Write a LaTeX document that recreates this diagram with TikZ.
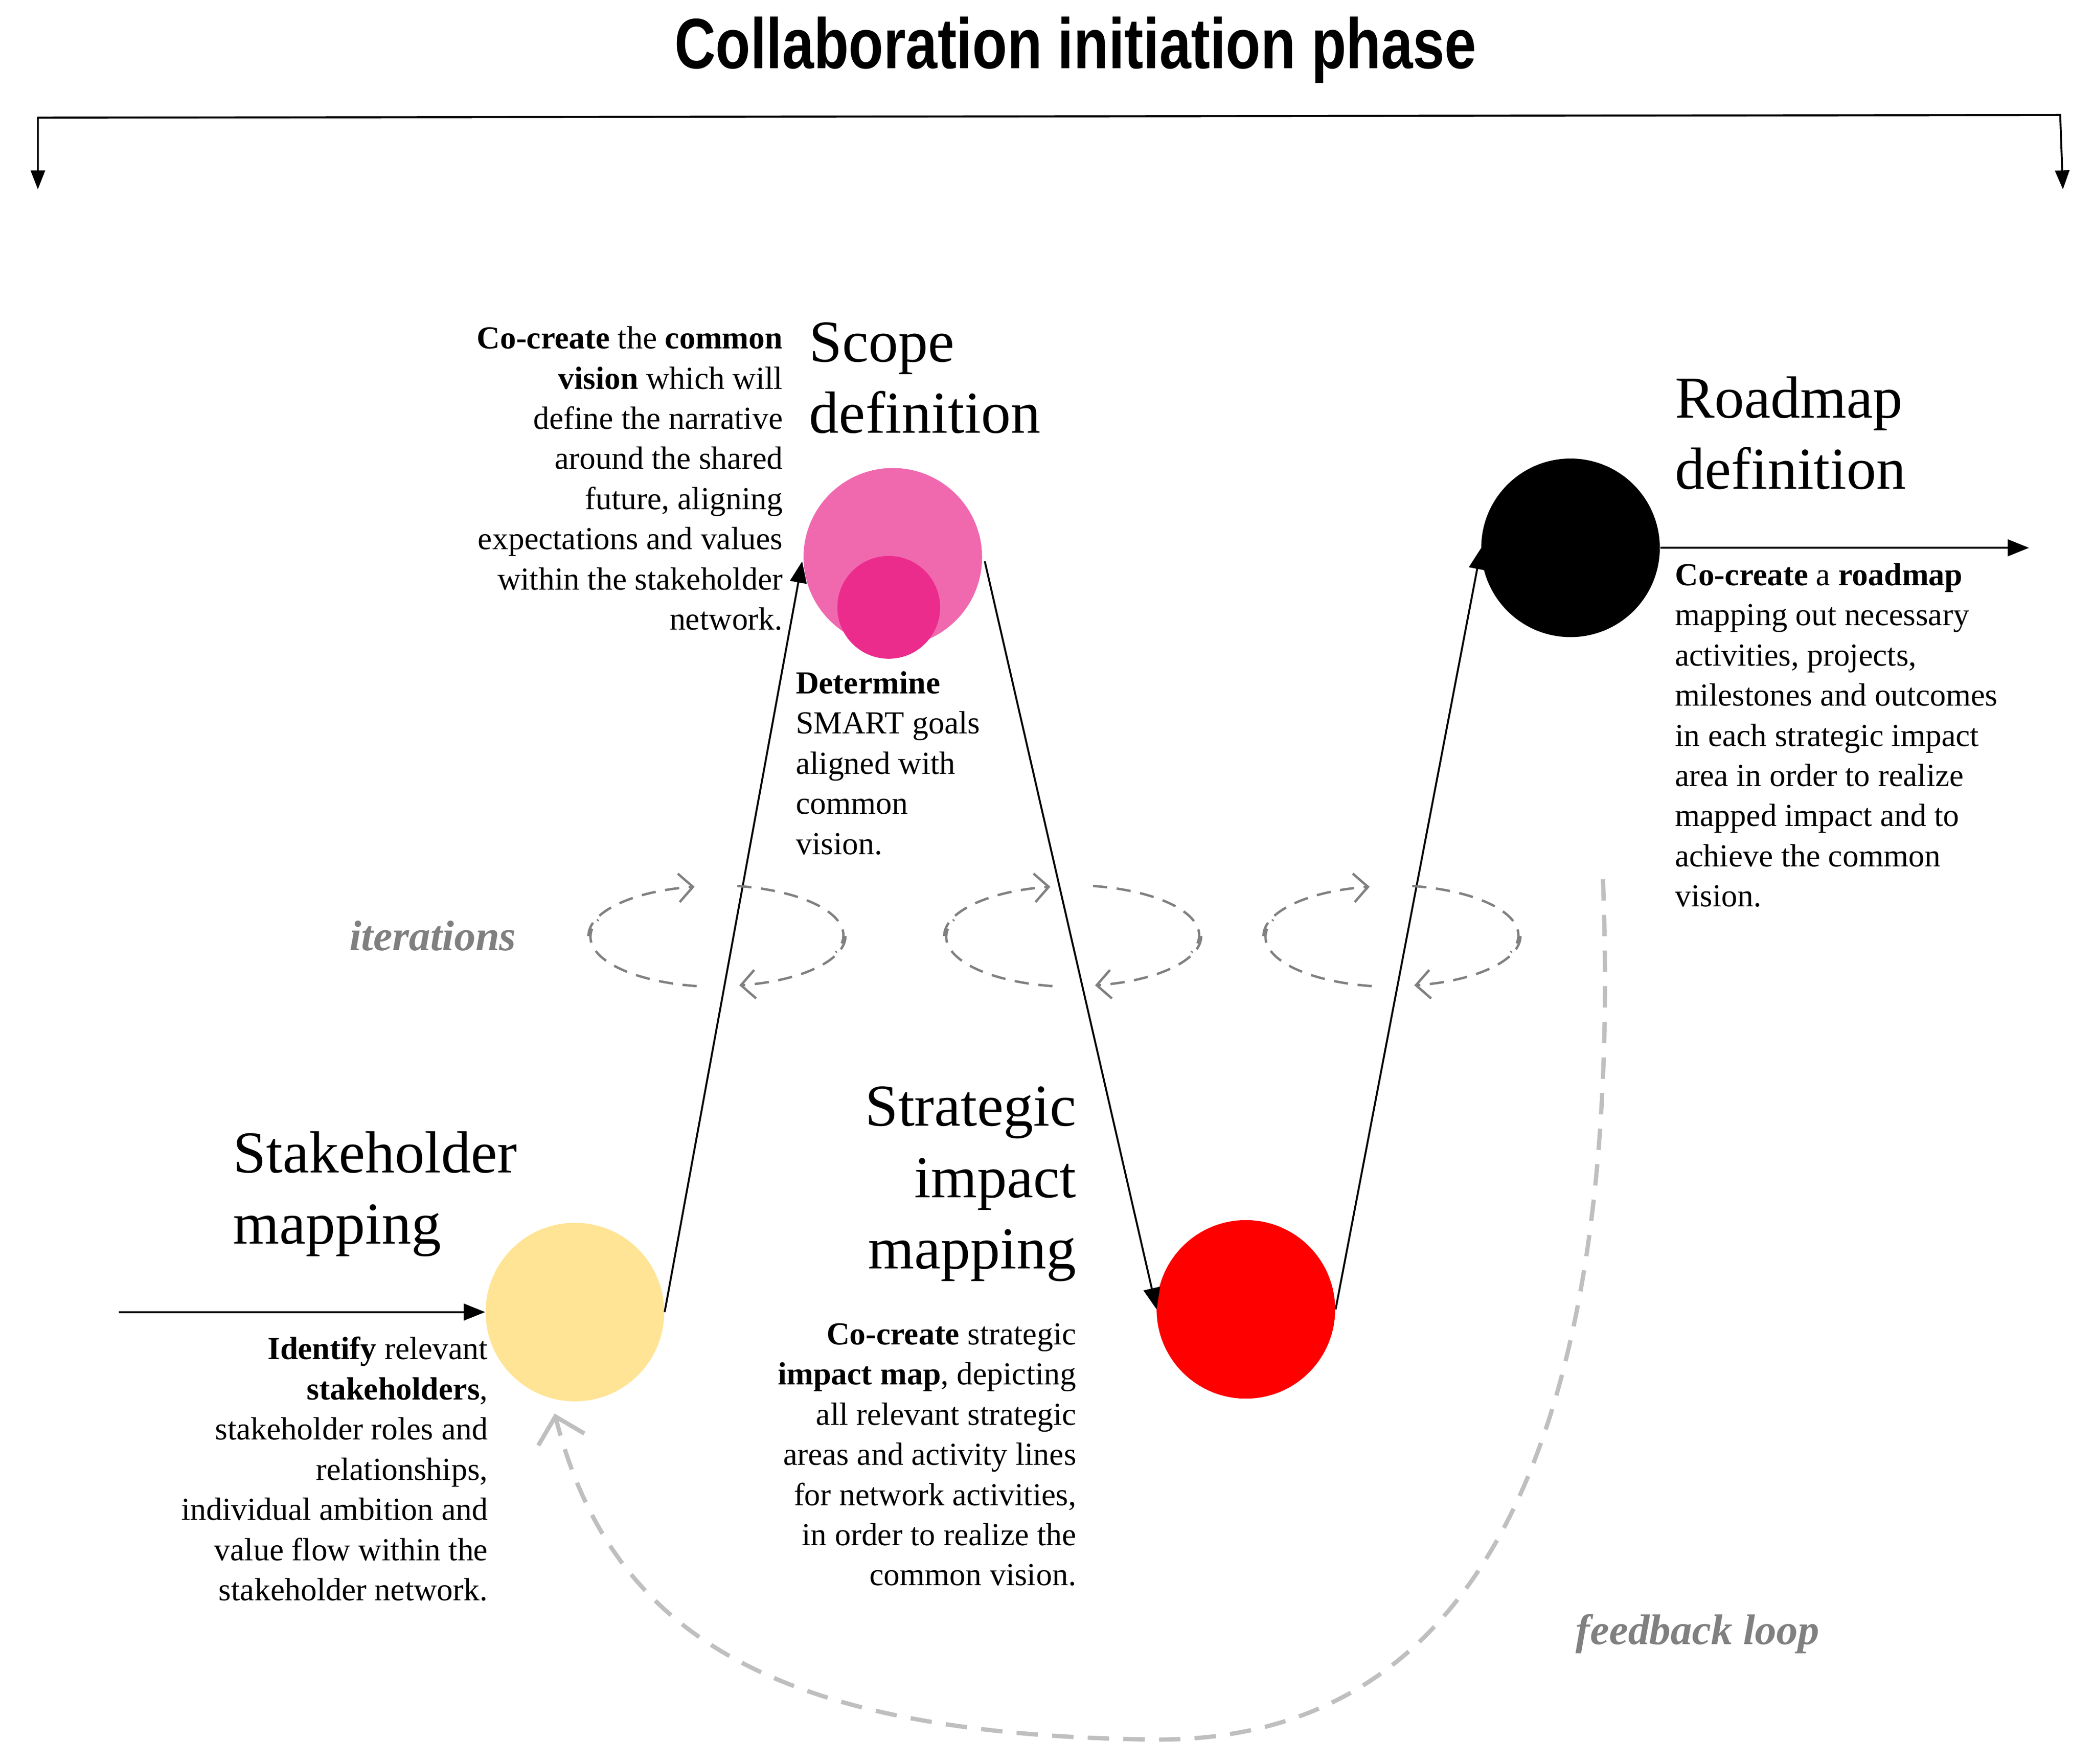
\documentclass[tikz,border=0pt]{standalone}
\usepackage{fontspec}
\setmainfont{Liberation Serif}
\newfontfamily\titlefont{Liberation Sans}
\usetikzlibrary{arrows.meta}
\tikzset{
 body/.style={font=\fontsize{13.5}{16.9}\selectfont, inner sep=0pt},
 head/.style={font=\fontsize{25}{30}\selectfont, inner sep=0pt, align=left},
 conn/.style={-{Triangle[length=9pt,width=7pt]}, line width=0.8pt},
 iter/.style={gray, dashed, line width=1pt, dash pattern=on 6pt off 4pt},
 loopcol/.style={black!25, dash pattern=on 9pt off 6pt, line width=1.8pt},
 notelbl/.style={gray, font=\fontsize{18}{20}\selectfont\bfseries\itshape}
}
\begin{document}
\begin{tikzpicture}[x=0.02cm,y=-0.02cm]
\useasboundingbox (0,0) rectangle (1548,1304);
\node[font=\titlefont\bfseries\fontsize{30}{34}\selectfont, xscale=0.8] (title) at (795,37) {Collaboration initiation phase};
\coordinate (bl) at (28,140); \coordinate (br) at (1525,140);
\draw[line width=0.8pt,-{Triangle[length=8pt,width=6pt]}] (28,87) -- (1523,85) -- (br);
\draw[line width=0.8pt,-{Triangle[length=8pt,width=6pt]}] (1523,85) -- (28,87) -- (bl);
% circles
\node[circle, fill={rgb,255:red,255;green,228;blue,150}, minimum size=132*0.02cm, inner sep=0pt] (sm) at (425,970) {};
\node[circle, fill={rgb,255:red,240;green,105;blue,175}, minimum size=132*0.02cm, inner sep=0pt] (sd) at (660,412) {};
\node[circle, fill={rgb,255:red,236;green,44;blue,140}, minimum size=76*0.02cm, inner sep=0pt] (sdi) at (657,449) {};
\node[circle, fill=red, minimum size=132*0.02cm, inner sep=0pt] (si) at (921,968) {};
\node[circle, fill=black, minimum size=132*0.02cm, inner sep=0pt] (rd) at (1161,405) {};
\coordinate (start) at (88,970); \coordinate (end) at (1500,405);
\draw[conn] (start) -- (sm.west);
\draw[conn] (sm.east) -- (593,415);
\draw[conn] (728,415) -- (855,968);
\draw[conn] (si.east) -- (1095,405);
\draw[conn] (rd.east) -- (end);
% iterations
\foreach \cx in {530,793,1029}{
 \draw[iter,-{Straight Barb[length=6pt]}] (\cx-95,692) arc[start angle=180,end angle=100,x radius=95,y radius=-37];
 \draw[iter] (\cx+15,655) arc[start angle=80,end angle=-20,x radius=95,y radius=-37];
 \draw[iter,-{Straight Barb[length=6pt]}] (\cx+95,692) arc[start angle=0,end angle=-80,x radius=95,y radius=-37];
 \draw[iter] (\cx-15,729) arc[start angle=-100,end angle=-200,x radius=95,y radius=-37];
}
\node[notelbl] (itl) at (320,692) {iterations};
% feedback loop
\coordinate (fbs) at (1185,650);
\draw[loopcol,-{Straight Barb[length=10pt]}] (fbs) .. controls (1200,1050) and (1100,1290) .. (850,1286) .. controls (560,1282) and (450,1200) .. (410,1045);
\node[notelbl] (fbl) at (1255,1208) {feedback loop};
% headings
\node[head, anchor=north west] (hsd) at (598,238) {Scope\\definition};
\node[head, anchor=north west] (hrd) at (1238,278) {Roadmap\\definition};
\node[head, anchor=north west] (hsm) at (172,836) {Stakeholder\\mapping};
\node[head, anchor=north east, align=right] (hsi) at (796,803) {Strategic\\impact\\mapping};
% body texts
\node[body, anchor=north east, align=right] (tsd) at (579,241) {\textbf{Co-create} the \textbf{common}\\\textbf{vision} which will\\define the narrative\\around the shared\\future, aligning\\expectations and values\\within the stakeholder\\network.};
\node[body, anchor=north west, align=left] (tsg) at (588,496) {\textbf{Determine}\\SMART goals\\aligned with\\common\\vision.};
\node[body, anchor=north west, align=left] (trd) at (1238,416) {\textbf{Co-create} a \textbf{roadmap}\\mapping out necessary\\activities, projects,\\milestones and outcomes\\in each strategic impact\\area in order to realize\\mapped impact and to\\achieve the common\\vision.};
\node[body, anchor=north east, align=right] (tsm) at (361,988) {\textbf{Identify} relevant\\\textbf{stakeholders},\\stakeholder roles and\\relationships,\\individual ambition and\\value flow within the\\stakeholder network.};
\node[body, anchor=north east, align=right] (tsi) at (796,978) {\textbf{Co-create} strategic\\\textbf{impact map}, depicting\\all relevant strategic\\areas and activity lines\\for network activities,\\in order to realize the\\common vision.};
\end{tikzpicture}
\end{document}
